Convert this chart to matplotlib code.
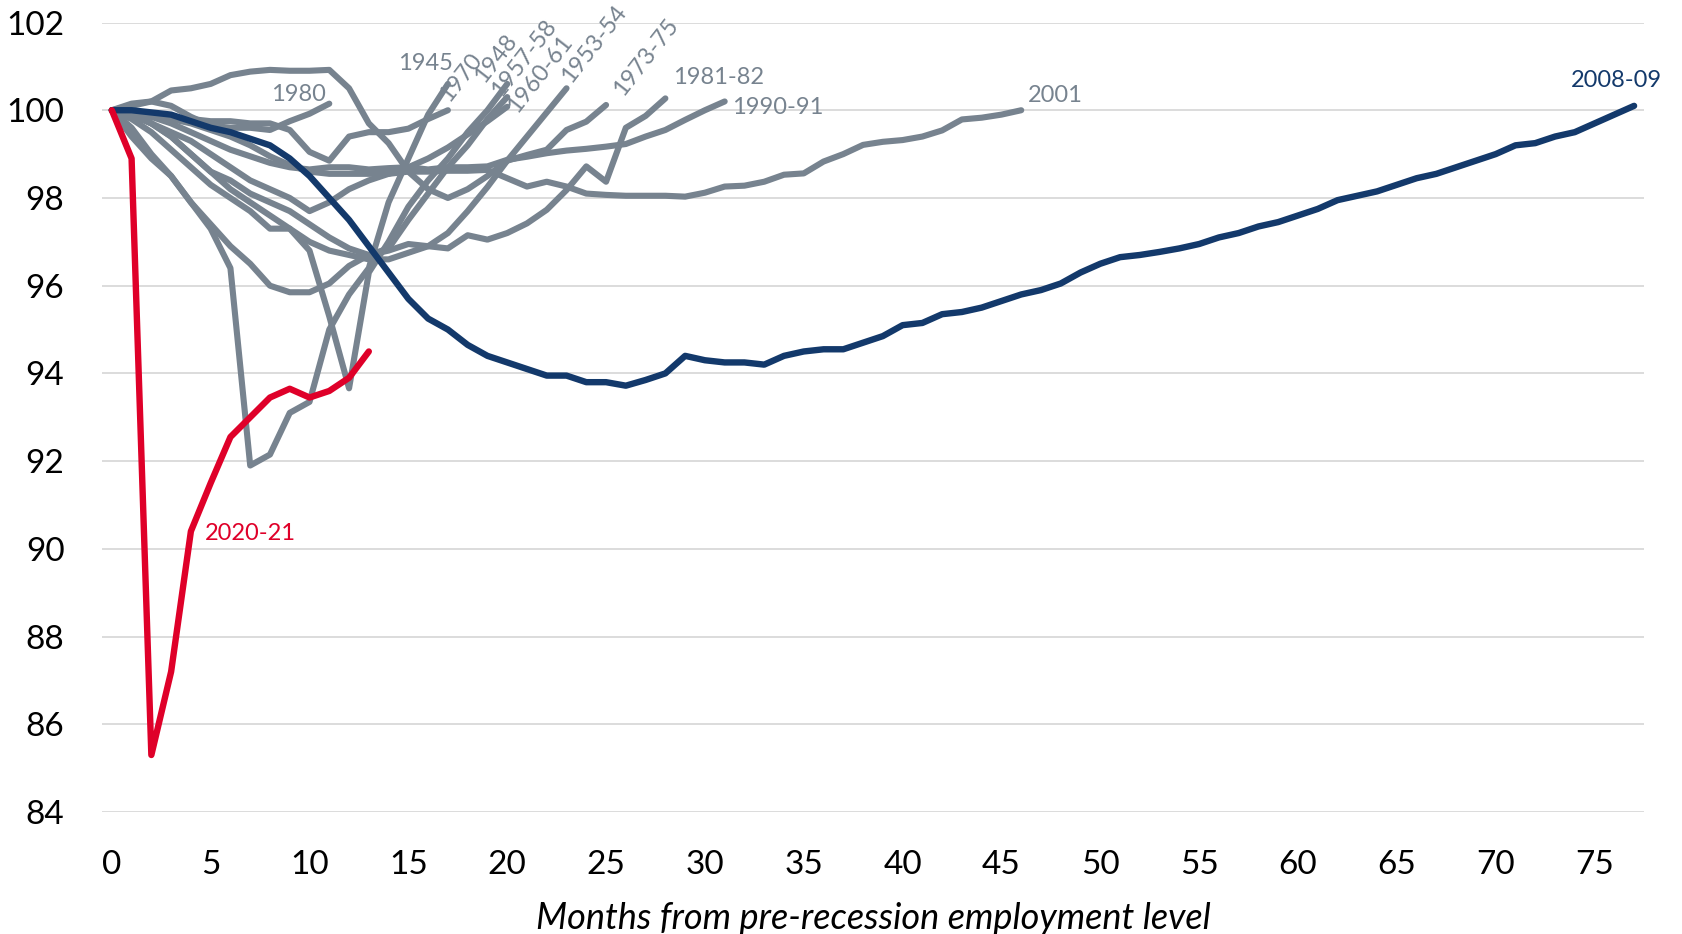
import matplotlib
matplotlib.use("Agg")
import matplotlib.pyplot as plt

# employment index, 100 = pre-recession employment level, one value per month
r1945 = [100, 99.4, 98.9, 98.5, 97.9, 97.3, 96.4, 91.9, 92.15, 93.1, 93.35, 95.0,
         95.8, 96.4, 97.9, 98.9, 99.9, 100.6]
r1948 = [100, 99.8, 99.5, 99.1, 98.7, 98.3, 98.0, 97.7, 97.3, 97.3, 96.8, 95.3,
         93.66, 96.3, 97.0, 97.8, 98.4, 98.9, 99.5, 100.0, 100.6]
r1953 = [100, 99.9, 99.7, 99.4, 99.0, 98.6, 98.2, 97.9, 97.6, 97.3, 97.0, 96.8,
         96.7, 96.6, 96.6, 96.75, 96.9, 97.2, 97.7, 98.25, 98.85, 99.4, 99.95, 100.5]
r1957 = [100, 99.6, 99.0, 98.5, 97.9, 97.4, 96.9, 96.5, 96.0, 95.85, 95.85, 96.05,
         96.45, 96.7, 96.85, 97.5, 98.1, 98.7, 99.2, 99.8, 100.3]
r1960 = [100, 99.9, 99.7, 99.5, 99.3, 99.0, 98.7, 98.4, 98.2, 98.0, 97.7, 97.9,
         98.2, 98.4, 98.55, 98.7, 98.9, 99.15, 99.45, 99.75, 100.08]
r1970 = [100, 100.0, 99.9, 99.85, 99.8, 99.75, 99.75, 99.7, 99.7, 99.55, 99.05, 98.85,
         99.4, 99.5, 99.5, 99.58, 99.8, 100.0]
r1973 = [100, 100.15, 100.2, 100.45, 100.5, 100.6, 100.8, 100.88, 100.92, 100.9, 100.9,
         100.92, 100.5, 99.7, 99.25, 98.6, 98.2, 98.0, 98.2, 98.5, 98.85, 98.98, 99.1,
         99.55, 99.74, 100.12]
r1980 = [100, 100.1, 100.2, 100.1, 99.85, 99.65, 99.6, 99.6, 99.55, 99.75, 99.92, 100.15]
r1981 = [100, 99.9, 99.7, 99.4, 99.0, 98.6, 98.4, 98.1, 97.9, 97.7, 97.4, 97.1, 96.85,
         96.7, 96.8, 96.95, 96.9, 96.85, 97.15, 97.05, 97.2, 97.42, 97.73, 98.18, 98.72,
         98.37, 99.6, 99.87, 100.27]
r1990 = [100, 99.95, 99.85, 99.7, 99.5, 99.3, 99.1, 98.95, 98.8, 98.7, 98.65, 98.7,
         98.7, 98.65, 98.68, 98.7, 98.65, 98.7, 98.7, 98.72, 98.87, 98.94, 99.02, 99.08,
         99.12, 99.17, 99.23, 99.4, 99.55, 99.78, 100.0, 100.2]
r2001 = [100, 99.95, 99.85, 99.8, 99.7, 99.55, 99.4, 99.2, 98.95, 98.75, 98.6, 98.55,
         98.55, 98.55, 98.55, 98.6, 98.6, 98.62, 98.62, 98.64, 98.45, 98.26, 98.37, 98.26,
         98.1, 98.07, 98.05, 98.05, 98.05, 98.03, 98.12, 98.26, 98.28, 98.37, 98.53, 98.56,
         98.83, 99.0, 99.21, 99.28, 99.32, 99.4, 99.54, 99.79, 99.83, 99.9, 100.0]
r2008 = [100, 100.0, 99.95, 99.9, 99.75, 99.6, 99.5, 99.35, 99.2, 98.9, 98.5, 98.0,
         97.5, 96.9, 96.3, 95.7, 95.25, 95.0, 94.65, 94.4, 94.25, 94.1, 93.95, 93.95,
         93.8, 93.8, 93.72, 93.85, 94.0, 94.4, 94.3, 94.25, 94.25, 94.2, 94.4, 94.5,
         94.55, 94.55, 94.7, 94.85, 95.1, 95.15, 95.35, 95.4, 95.5, 95.65, 95.8, 95.9,
         96.05, 96.3, 96.5, 96.65, 96.7, 96.77, 96.85, 96.95, 97.1, 97.2, 97.35, 97.45,
         97.6, 97.75, 97.95, 98.05, 98.15, 98.3, 98.45, 98.55, 98.7, 98.85, 99.0, 99.2,
         99.25, 99.4, 99.5, 99.7, 99.9, 100.1]
r2020 = [100, 98.9, 85.3, 87.2, 90.4, 91.5, 92.55, 93.0, 93.45, 93.65, 93.45, 93.6,
         93.9, 94.5]

gray_series = [r1945, r1948, r1953, r1957, r1960, r1970, r1973, r1980, r1981, r1990, r2001]

# label text, x, y, rotation
gray_labels = [
    ("1945", 14.5, 101.07, 0),
    ("1970", 17.2, 100.1, 52),
    ("1948", 19.0, 100.55, 52),
    ("1957-58", 19.85, 100.22, 52),
    ("1960-61", 20.65, 99.85, 52),
    ("1953-54", 23.4, 100.55, 52),
    ("1973-75", 26.0, 100.25, 52),
    ("1981-82", 28.37, 100.75, 0),
    ("1990-91", 31.35, 100.07, 0),
    ("2001", 46.35, 100.34, 0),
    ("1980", 8.07, 100.36, 0),
]

GRAY = "#77838f"
NAVY = "#13396b"
RED = "#df0029"

plt.rcParams["font.family"] = ["Lato", "DejaVu Sans"]

fig = plt.figure(figsize=(16.82, 9.34), dpi=100)
ax = fig.add_axes([0.0606, 0.1306, 0.9168, 0.8453])

for s in gray_series:
    ax.plot(range(len(s)), s, color=GRAY, lw=4.4, solid_capstyle="round",
            solid_joinstyle="round", zorder=2)
ax.plot(range(len(r2008)), r2008, color=NAVY, lw=4.6, solid_capstyle="round",
        solid_joinstyle="round", zorder=3)
ax.plot(range(len(r2020)), r2020, color=RED, lw=4.6, solid_capstyle="round",
        solid_joinstyle="round", zorder=4)

for txt, x, y, rot in gray_labels:
    if rot:
        ax.text(x, y, txt, color=GRAY, fontsize=17, rotation=rot,
                rotation_mode="anchor", ha="left", va="bottom", zorder=5)
    else:
        ax.text(x, y, txt, color=GRAY, fontsize=17, ha="left", va="center", zorder=5)
ax.text(73.8, 100.68, "2008-09", color=NAVY, fontsize=17, ha="left", va="center",
        clip_on=False)
ax.text(4.71, 90.36, "2020-21", color=RED, fontsize=17, ha="left", va="center")

ax.set_xlim(-0.5, 77.5)
ax.set_ylim(84, 102)
ax.set_xticks(range(0, 80, 5))
ax.set_yticks(range(84, 104, 2))
ax.grid(axis="y", color="#d9d9d9", lw=1.3)
ax.set_axisbelow(True)
ax.tick_params(length=0, labelsize=24, colors="black")
ax.tick_params(axis="y", pad=27)
ax.tick_params(axis="x", pad=27)
for sp in ax.spines.values():
    sp.set_visible(False)

ax.set_xlabel("Months from pre-recession employment level", fontsize=26,
              style="italic", labelpad=16)

fig.savefig("out.png", dpi=100)
